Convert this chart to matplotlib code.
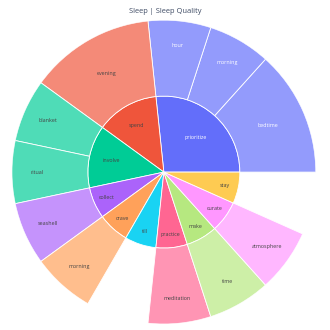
import numpy as np
import matplotlib.pyplot as plt
from matplotlib.colors import to_rgb

plt.rcParams['font.family'] = ['Open Sans', 'DejaVu Sans']

# inner ring
parents = ['prioritize', 'spend', 'involve', 'collect', 'crave',
           'till', 'practice', 'make', 'curate', 'stay']
parent_values = [4, 2, 2, 1, 1, 1, 1, 1, 1, 1]
parent_colors = ['#636efa', '#EF553B', '#00cc96', '#ab63fa', '#FFA15A',
                 '#19d3f3', '#FF6692', '#B6E880', '#FF97FF', '#FECB52']

# outer ring
children = ['bedtime', 'morning', 'hour', 'evening', 'blanket', 'ritual',
            'seashell', 'morning', 'meditation', 'time', 'atmosphere']
child_parent = ['prioritize', 'prioritize', 'prioritize', 'spend', 'involve', 'involve',
                'collect', 'crave', 'practice', 'make', 'curate']
child_values = [2, 1, 1, 2, 1, 1, 1, 1, 1, 1, 1]


def lighten(c, a=0.31):
    r = np.array(to_rgb(c))
    return tuple(r * (1 - a) + a)


def text_color(c):
    r, g, b = [v * 255 for v in to_rgb(c)]
    return 'white' if (r * 299 + g * 587 + b * 114) / 1000 < 128 else '#444444'


total = sum(parent_values)
fig = plt.figure(figsize=(3.3, 3.3), dpi=100)
ax = fig.add_axes([0.036, 0.018, 0.921, 0.921], projection='polar')
ax.set_ylim(0, 2)
ax.axis('off')

start = 0.0
for name, val, col in zip(parents, parent_values, parent_colors):
    span = 2 * np.pi * val / total
    ax.bar(start, 1, width=span, bottom=0, align='edge', color=col,
           edgecolor='white', linewidth=0.6)
    deg = np.degrees(span)
    rf = 0.62 if deg > 90 else (0.71 if deg > 40 else 0.82)
    ax.text(start + span / 2, rf, name, ha='center', va='center',
            fontsize=3.9, color=text_color(col))

    # children of this parent
    cstart = start
    for cname, cpar, cval in zip(children, child_parent, child_values):
        if cpar != name:
            continue
        cspan = 2 * np.pi * cval / total
        ax.bar(cstart, 1, width=cspan, bottom=1, align='edge', color=lighten(col),
               edgecolor='white', linewidth=0.6)
        cf = 0.5 if np.degrees(cspan) > 40 else 0.67
        ax.text(cstart + cspan / 2, 1 + cf, cname, ha='center', va='center',
                fontsize=3.9, color=text_color(col))
        cstart += cspan
    start += span

fig.text(0.5, 0.964, 'Sleep | Sleep Quality', ha='center', va='center',
         fontsize=5.4, color='#3d4a63')

plt.savefig('out.png', dpi=100)
